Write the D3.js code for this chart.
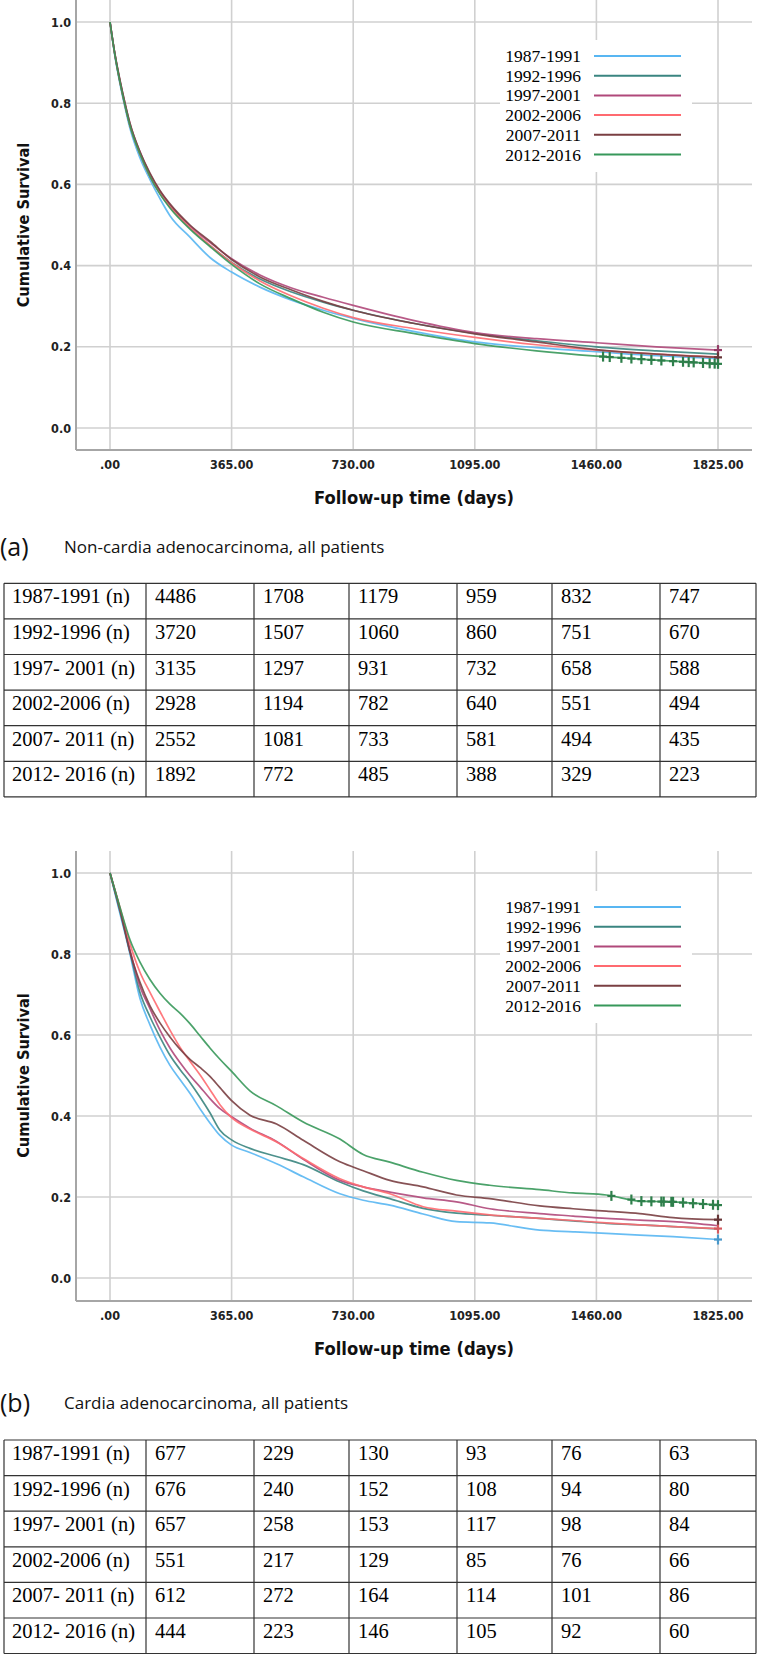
<!DOCTYPE html>
<html>
<head>
<meta charset="utf-8">
<script src="https://cdn.jsdelivr.net/npm/d3@7/dist/d3.min.js"></script>
<style>
    body { margin: 0; background: #fff; }
    .tick-label { font-family: "DejaVu Sans Condensed", "DejaVu Sans", sans-serif; font-weight: bold; font-size: 12.5px; fill: #222; }
    .axis-title { font-family: "DejaVu Sans Condensed", "DejaVu Sans", sans-serif; font-weight: bold; fill: #111; }
    .legend-text { font-family: "Liberation Serif", serif; font-size: 17.5px; fill: #000; }
    .table-text { font-family: "Liberation Serif", serif; font-size: 20.5px; fill: #000; }
    .caption { font-family: "Open Sans", sans-serif; font-size: 17px; fill: #111; }
    .caption-tag { font-family: "Open Sans", sans-serif; font-size: 25px; fill: #111; }
</style>
</head>
<body>
<div id="chart"></div>
<script>
// ---- data ----
var groups = ['1987-1991', '1992-1996', '1997-2001', '2002-2006', '2007-2011', '2012-2016'];
var xTicks = [0, 365, 730, 1095, 1460, 1825];
var yTicks = [0, 0.2, 0.4, 0.6, 0.8, 1.0];

// (a) non-cardia adenocarcinoma
var timesA = [0, 15, 30, 45, 60, 90, 120, 150, 180, 240, 300, 365, 450, 545, 640, 730, 910, 1095, 1280, 1460, 1640, 1825];
var survA1987 = [1.0, 0.915, 0.848, 0.79, 0.738, 0.665, 0.612, 0.565, 0.523, 0.47, 0.42, 0.384, 0.347, 0.315, 0.29, 0.27, 0.238, 0.212, 0.198, 0.188, 0.178, 0.171];
var survA1992 = [1.0, 0.918, 0.852, 0.795, 0.745, 0.675, 0.62, 0.578, 0.545, 0.492, 0.449, 0.408, 0.367, 0.335, 0.31, 0.29, 0.258, 0.233, 0.215, 0.2, 0.19, 0.182];
var survA1997 = [1.0, 0.92, 0.856, 0.8, 0.75, 0.68, 0.625, 0.583, 0.55, 0.498, 0.457, 0.417, 0.377, 0.345, 0.322, 0.302, 0.265, 0.235, 0.22, 0.21, 0.2, 0.192];
var survA2002 = [1.0, 0.918, 0.852, 0.795, 0.745, 0.675, 0.62, 0.578, 0.545, 0.493, 0.45, 0.407, 0.362, 0.325, 0.295, 0.272, 0.245, 0.223, 0.205, 0.192, 0.182, 0.175];
var survA2007 = [1.0, 0.92, 0.856, 0.8, 0.75, 0.68, 0.628, 0.585, 0.552, 0.5, 0.46, 0.415, 0.372, 0.34, 0.312, 0.29, 0.258, 0.232, 0.212, 0.193, 0.182, 0.174];
var survA2012 = [1.0, 0.918, 0.852, 0.795, 0.745, 0.675, 0.62, 0.576, 0.542, 0.49, 0.447, 0.403, 0.355, 0.318, 0.285, 0.261, 0.233, 0.208, 0.19, 0.177, 0.167, 0.158];
var censorA = [[], [], [1825], [], [1825], [1480, 1500, 1535, 1565, 1595, 1625, 1655, 1690, 1720, 1737, 1752, 1780, 1800, 1815, 1825]];

// (b) cardia adenocarcinoma
var timesB = [0, 30, 60, 90, 120, 150, 180, 210, 240, 270, 300, 330, 365, 420, 500, 580, 690, 760, 840, 940, 1040, 1140, 1290, 1390, 1490, 1590, 1690, 1825];
var survB1987 = [1.0, 0.9, 0.8, 0.69, 0.625, 0.57, 0.525, 0.49, 0.456, 0.418, 0.383, 0.352, 0.328, 0.31, 0.282, 0.25, 0.208, 0.192, 0.18, 0.158, 0.139, 0.136, 0.118, 0.114, 0.11, 0.106, 0.102, 0.095];
var survB1992 = [1.0, 0.905, 0.805, 0.705, 0.645, 0.595, 0.55, 0.515, 0.483, 0.447, 0.408, 0.365, 0.341, 0.32, 0.3, 0.28, 0.237, 0.215, 0.196, 0.172, 0.16, 0.155, 0.147, 0.141, 0.135, 0.131, 0.127, 0.121];
var survB1997 = [1.0, 0.91, 0.81, 0.72, 0.665, 0.612, 0.568, 0.532, 0.5, 0.472, 0.443, 0.418, 0.398, 0.37, 0.337, 0.293, 0.241, 0.225, 0.212, 0.198, 0.188, 0.171, 0.159, 0.153, 0.147, 0.143, 0.139, 0.129];
var survB2002 = [1.0, 0.915, 0.825, 0.755, 0.705, 0.658, 0.612, 0.57, 0.535, 0.502, 0.465, 0.428, 0.396, 0.368, 0.336, 0.295, 0.245, 0.225, 0.208, 0.176, 0.165, 0.156, 0.147, 0.142, 0.136, 0.131, 0.127, 0.122];
var survB2007 = [1.0, 0.91, 0.805, 0.73, 0.672, 0.63, 0.595, 0.565, 0.54, 0.52, 0.498, 0.47, 0.438, 0.402, 0.38, 0.34, 0.287, 0.265, 0.241, 0.225, 0.205, 0.196, 0.178, 0.171, 0.165, 0.159, 0.149, 0.144];
var survB2012 = [1.0, 0.915, 0.835, 0.78, 0.737, 0.703, 0.676, 0.654, 0.628, 0.598, 0.568, 0.54, 0.51, 0.462, 0.425, 0.385, 0.343, 0.305, 0.286, 0.261, 0.241, 0.229, 0.218, 0.21, 0.205, 0.19, 0.188, 0.18];
var censorB = [[1825], [], [], [1825], [1825], [1505, 1565, 1595, 1625, 1655, 1662, 1685, 1690, 1720, 1750, 1780, 1810, 1825]];

// number-at-risk tables
var tableLabels = ['1987-1991 (n)', '1992-1996 (n)', '1997- 2001 (n)', '2002-2006 (n)', '2007- 2011 (n)', '2012- 2016 (n)'];
var tableA = [
    [4486, 1708, 1179, 959, 832, 747],
    [3720, 1507, 1060, 860, 751, 670],
    [3135, 1297, 931, 732, 658, 588],
    [2928, 1194, 782, 640, 551, 494],
    [2552, 1081, 733, 581, 494, 435],
    [1892, 772, 485, 388, 329, 223]
];
var tableB = [
    [677, 229, 130, 93, 76, 63],
    [676, 240, 152, 108, 94, 80],
    [657, 258, 153, 117, 98, 84],
    [551, 217, 129, 85, 76, 66],
    [612, 272, 164, 114, 101, 86],
    [444, 223, 146, 105, 92, 60]
];
var captionA = 'Non-cardia adenocarcinoma, all patients';
var captionB = 'Cardia adenocarcinoma, all patients';

// ---- styles ----
var colors = ['#58b6f2', '#3a8580', '#b0487a', '#ff6a70', '#7a3f42', '#37985a'];

var svg = d3.select('#chart')
    .append('svg')
    .attr('width', 757)
    .attr('height', 1654);

/**
 * Survival plot panel
 */
SurvivalPlot = function(_svg, _cfg) {
    this.svg = _svg;
    this.cfg = _cfg;
    this.initVis();
}

SurvivalPlot.prototype.initVis = function() {
    var vis = this;
    var c = vis.cfg;

    vis.g = vis.svg.append('g');

    vis.x = d3.scaleLinear().domain([0, 1825]).range([110, 718]);
    vis.y = d3.scaleLinear().domain([0, 1]).range([c.y0, c.y1]);

    var left = 76, right = 752;

    // gridlines
    vis.g.selectAll('.hgrid')
        .data(yTicks)
        .enter().append('line')
        .attr('x1', left).attr('x2', right)
        .attr('y1', function(d) { return vis.y(d); })
        .attr('y2', function(d) { return vis.y(d); })
        .attr('stroke', '#d0d0d0').attr('stroke-width', 1.6);

    vis.g.selectAll('.vgrid')
        .data(xTicks)
        .enter().append('line')
        .attr('x1', function(d) { return vis.x(d); })
        .attr('x2', function(d) { return vis.x(d); })
        .attr('y1', c.top).attr('y2', c.axisY)
        .attr('stroke', '#d0d0d0').attr('stroke-width', 1.6);

    // axis lines
    vis.g.append('line')
        .attr('x1', left).attr('x2', left)
        .attr('y1', c.top).attr('y2', c.axisY)
        .attr('stroke', '#a6a6a6').attr('stroke-width', 2);
    vis.g.append('line')
        .attr('x1', left).attr('x2', right)
        .attr('y1', c.axisY).attr('y2', c.axisY)
        .attr('stroke', '#a6a6a6').attr('stroke-width', 2);

    // tick labels
    vis.g.selectAll('.ylab')
        .data(yTicks)
        .enter().append('text')
        .attr('class', 'tick-label')
        .attr('text-anchor', 'end')
        .attr('x', 71)
        .attr('y', function(d) { return vis.y(d) + 4.5; })
        .text(d3.format('.1f'));

    vis.g.selectAll('.xlab')
        .data(xTicks)
        .enter().append('text')
        .attr('class', 'tick-label')
        .attr('text-anchor', 'middle')
        .attr('x', function(d) { return vis.x(d); })
        .attr('y', c.axisY + 19)
        .text(function(d) { return d === 0 ? '.00' : d.toFixed(2); });

    // axis titles
    vis.g.append('text')
        .attr('class', 'axis-title')
        .attr('font-size', '16.2px')
        .attr('text-anchor', 'middle')
        .attr('transform', 'translate(29,' + vis.y(0.5) + ') rotate(-90)')
        .text('Cumulative Survival');

    vis.g.append('text')
        .attr('class', 'axis-title')
        .attr('font-size', '18.2px')
        .attr('text-anchor', 'middle')
        .attr('x', 414)
        .attr('y', c.axisY + 54)
        .text('Follow-up time (days)');

    // curves
    vis.line = d3.line()
        .x(function(d) { return vis.x(d[0]); })
        .y(function(d) { return vis.y(d[1]); })
        .curve(d3.curveMonotoneX);

    c.series.forEach(function(s, i) {
        var pts = c.times.map(function(t, j) { return [t, s[j]]; });
        vis.g.append('path')
            .datum(pts)
            .attr('fill', 'none')
            .attr('stroke', colors[i])
            .attr('stroke-width', 1.7)
            .attr('stroke-opacity', 0.9)
            .attr('d', vis.line);
    });

    // censor marks
    c.censor.forEach(function(ts, i) {
        var f = d3.scaleLinear().domain(c.times).range(c.series[i]);
        var col = d3.color(colors[i]).darker(0.5);
        ts.forEach(function(t) {
            var cx = vis.x(t), cy = vis.y(f(t));
            vis.g.append('line')
                .attr('x1', cx - 4).attr('x2', cx + 4)
                .attr('y1', cy).attr('y2', cy)
                .attr('stroke', col).attr('stroke-width', 2.2);
            vis.g.append('line')
                .attr('x1', cx).attr('x2', cx)
                .attr('y1', cy - 5).attr('y2', cy + 5)
                .attr('stroke', col).attr('stroke-width', 2.2);
        });
    });

    // legend
    var ly = vis.y(1) + 34;
    vis.g.append('rect')
        .attr('x', 500).attr('y', vis.y(1) + 18)
        .attr('width', 192).attr('height', 132)
        .attr('fill', '#fff');

    groups.forEach(function(gname, i) {
        var yy = ly + i * 19.7;
        vis.g.append('text')
            .attr('class', 'legend-text')
            .attr('text-anchor', 'end')
            .attr('x', 581)
            .attr('y', yy + 6)
            .text(gname);
        vis.g.append('line')
            .attr('x1', 594).attr('x2', 681)
            .attr('y1', yy).attr('y2', yy)
            .attr('stroke', colors[i])
            .attr('stroke-width', 2);
    });

    // caption
    vis.g.append('text')
        .attr('class', 'caption-tag')
        .attr('x', 0)
        .attr('y', c.captionY + 9)
        .text(c.tag);
    vis.g.append('text')
        .attr('class', 'caption')
        .attr('x', 64)
        .attr('y', c.captionY + 6)
        .text(c.caption);

    // table
    var colX = [4, 146, 254, 349, 457, 552, 660, 756];
    var rowH = 35.6;
    var t0 = c.tableTop;
    var tg = vis.g.append('g');

    d3.range(7).forEach(function(r) {
        tg.append('line')
            .attr('x1', colX[0]).attr('x2', colX[7])
            .attr('y1', t0 + r * rowH).attr('y2', t0 + r * rowH)
            .attr('stroke', '#333').attr('stroke-width', 1.2);
    });
    colX.forEach(function(cx) {
        tg.append('line')
            .attr('x1', cx).attr('x2', cx)
            .attr('y1', t0).attr('y2', t0 + 6 * rowH)
            .attr('stroke', '#333').attr('stroke-width', 1.2);
    });

    tableLabels.forEach(function(lab, r) {
        var by = t0 + r * rowH + 20;
        tg.append('text')
            .attr('class', 'table-text')
            .attr('x', 12).attr('y', by)
            .text(lab);
        c.table[r].forEach(function(v, k) {
            tg.append('text')
                .attr('class', 'table-text')
                .attr('x', colX[k + 1] + 9).attr('y', by)
                .text(v);
        });
    });
}

new SurvivalPlot(svg, {
    top: 0, y0: 428, y1: 22, axisY: 450,
    times: timesA,
    series: [survA1987, survA1992, survA1997, survA2002, survA2007, survA2012],
    censor: censorA,
    tag: '(a)', caption: captionA, captionY: 547,
    tableTop: 583.3, table: tableA
});

new SurvivalPlot(svg, {
    top: 851, y0: 1278, y1: 873, axisY: 1301,
    times: timesB,
    series: [survB1987, survB1992, survB1997, survB2002, survB2007, survB2012],
    censor: censorB,
    tag: '(b)', caption: captionB, captionY: 1403,
    tableTop: 1440, table: tableB
});
</script>
</body>
</html>
